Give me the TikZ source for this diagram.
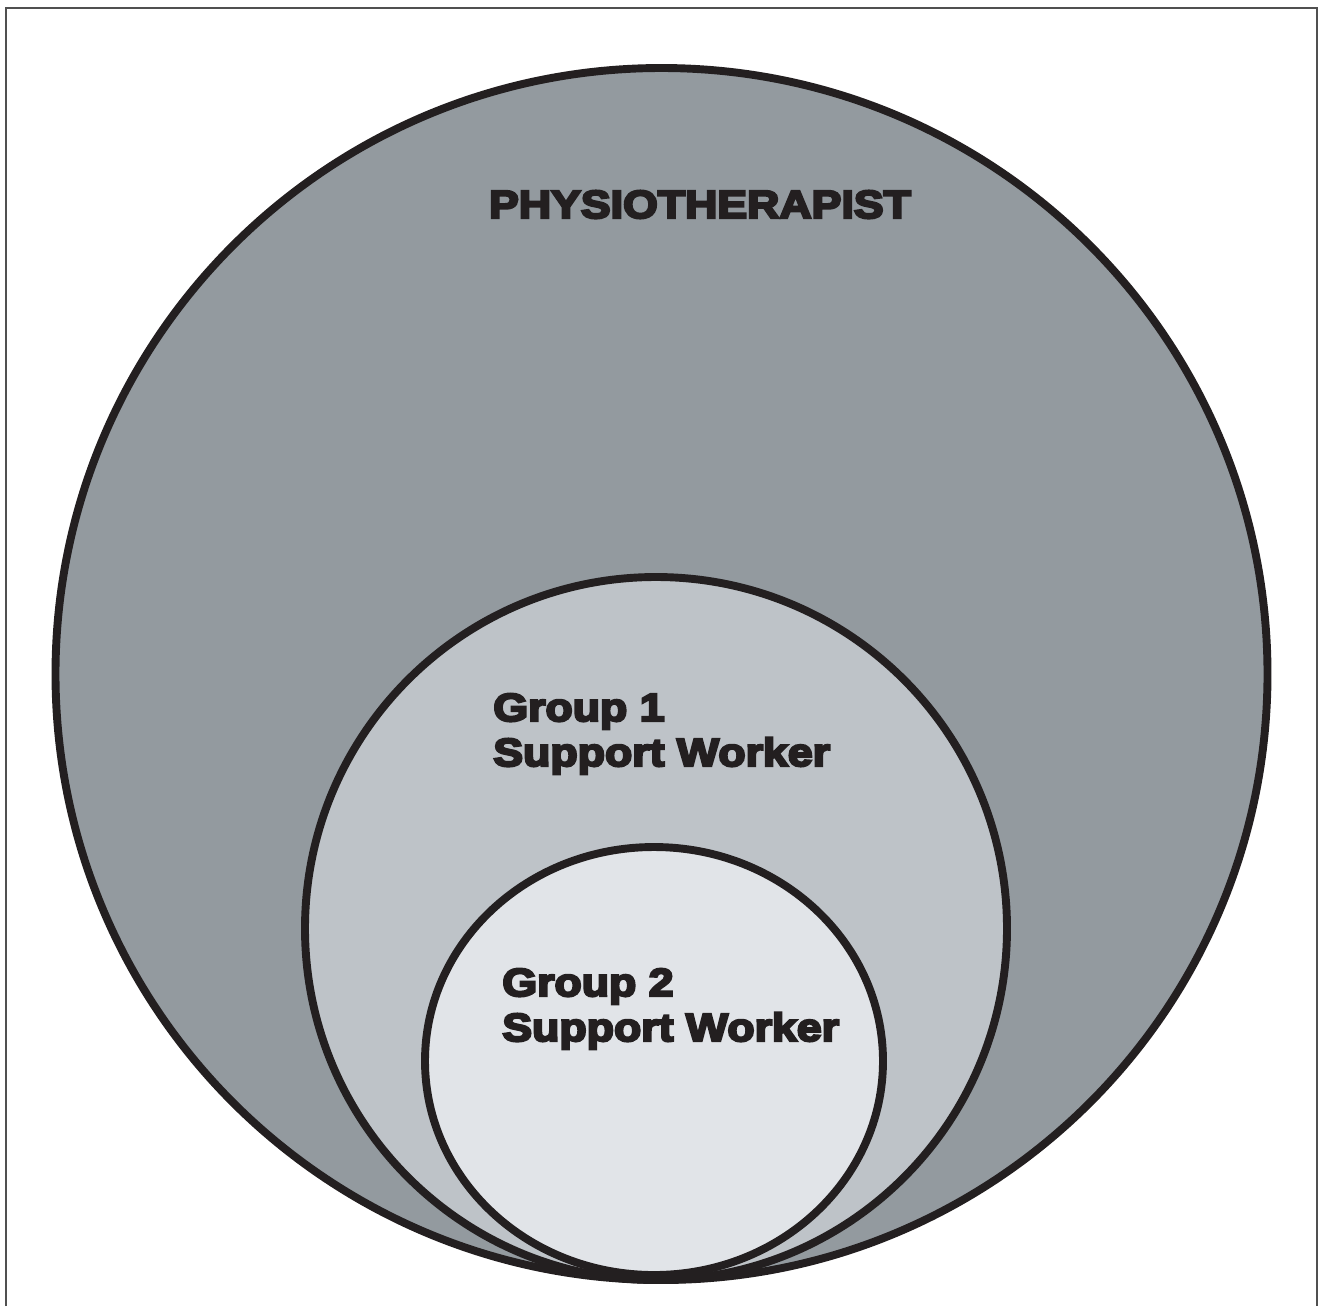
\documentclass[tikz,border=0pt]{standalone}
\usepackage{fontspec}
\usepackage{xcolor}
\usepackage{tikz}
\usetikzlibrary{positioning,calc}

\newfontfamily\heavyfont[FakeBold=6,FakeStretch=1.14]{Liberation Sans Bold}

\definecolor{inkblack}{HTML}{231F20}
\definecolor{physiogray}{HTML}{939A9F}
\definecolor{groupone}{HTML}{BEC3C8}
\definecolor{grouptwo}{HTML}{E1E4E8}
\definecolor{frameline}{HTML}{505050}

\tikzset{
  ring/.style={draw=inkblack, line width=4.5pt},
  roletext/.style={font=\fontsize{22.3}{25.6}\selectfont\heavyfont, text=inkblack, inner sep=0pt},
}

\begin{document}
\begin{tikzpicture}[x=0.02cm, y=-0.02cm]
    \useasboundingbox (0,0) rectangle (1318,1306);
    % Frame
    \draw[frameline, line width=1.2pt] (6,1306) -- (6,8) -- (1317,8) -- (1317,1306);
    % Physiotherapist
    \filldraw[ring, fill=physiogray] (661.5,674) ellipse [x radius=606, y radius=606];
    % Group 1
    \filldraw[ring, fill=groupone] (656,928.5) ellipse [x radius=351, y radius=351.5];
    % Group 2
    \filldraw[ring, fill=grouptwo] (654,1061) ellipse [x radius=229, y radius=214];
    % Labels (base anchor sits on the last line)
    \node[roletext, anchor=base] (physio) at (700,218) {PHYSIOTHERAPIST};
    \node[roletext, anchor=base west, align=left] (grpone) at (493,766) {Group 1\\Support Worker};
    \node[roletext, anchor=base west, align=left] (grptwo) at (502,1041) {Group 2\\Support Worker};
\end{tikzpicture}
\end{document}
